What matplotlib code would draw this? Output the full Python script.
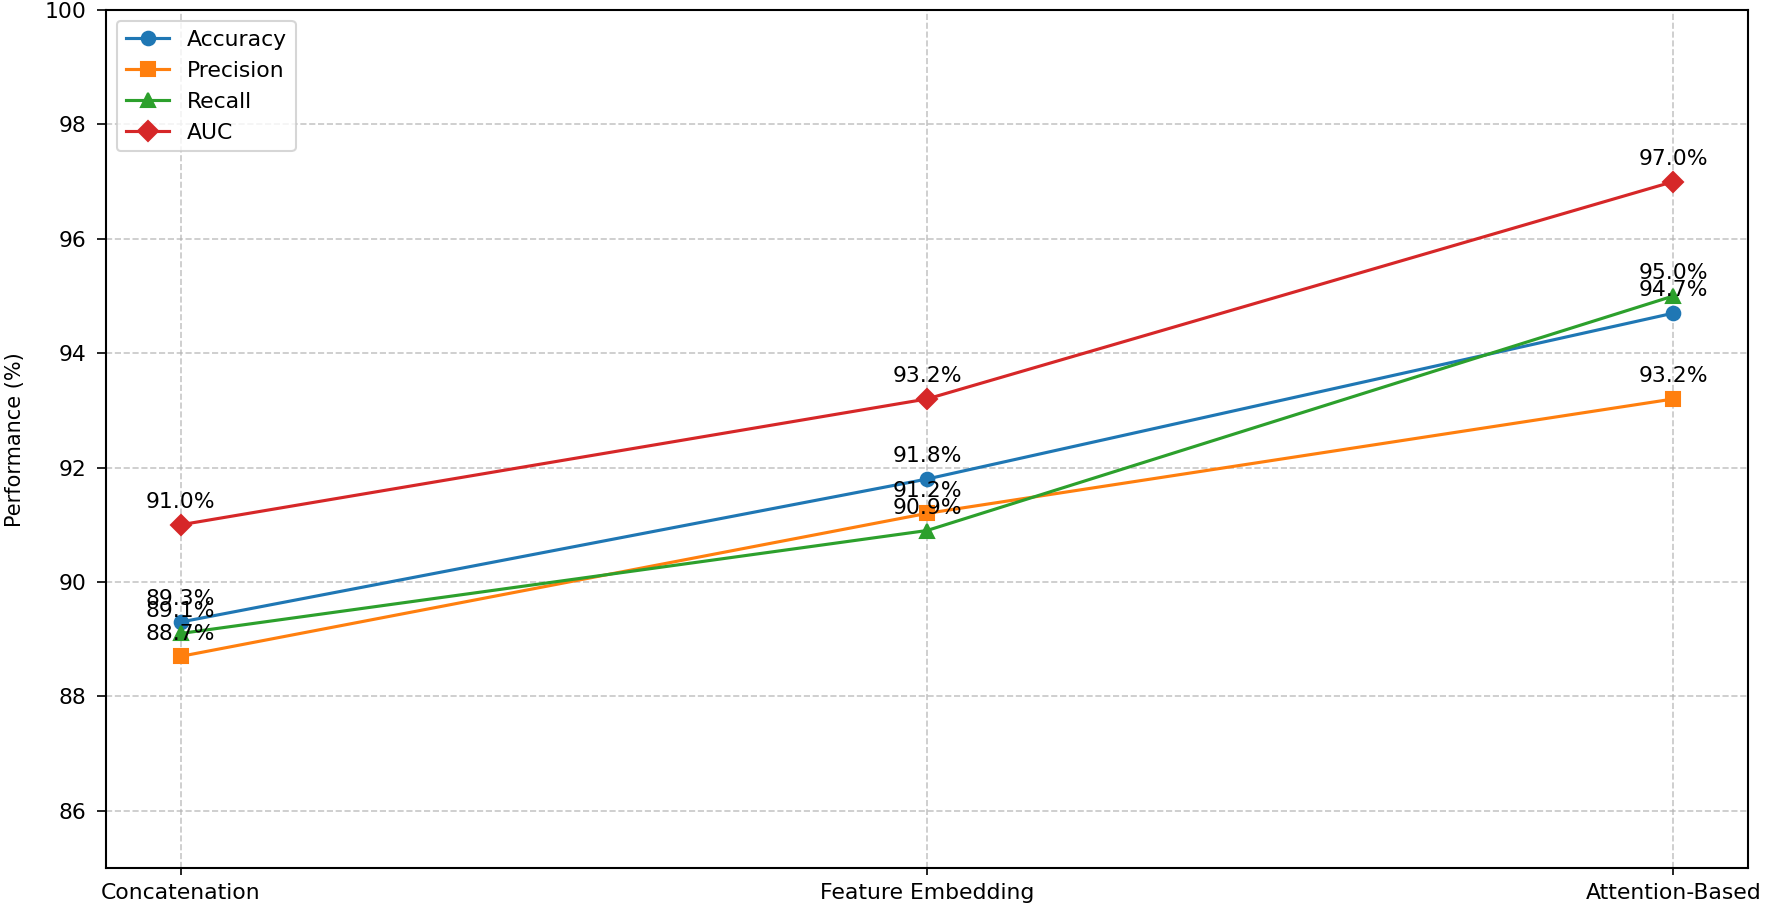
import matplotlib
matplotlib.use("Agg")
import matplotlib.pyplot as plt

methods = ["Concatenation", "Feature Embedding", "Attention-Based"]
accuracy = [89.3, 91.8, 94.7]
precision = [88.7, 91.2, 93.2]
recall = [89.1, 90.9, 95.0]
auc = [91.0, 93.2, 97.0]

series = [
    ("Accuracy", accuracy, "o", "#1f77b4"),
    ("Precision", precision, "s", "#ff7f0e"),
    ("Recall", recall, "^", "#2ca02c"),
    ("AUC", auc, "D", "#d62728"),
]

plt.rcParams["font.size"] = 10.5
plt.rcParams["axes.linewidth"] = 1.0
fig = plt.figure(figsize=(1772 / 150, 910 / 150), dpi=150)
ax = fig.add_axes([106 / 1772, 1 - 868 / 910, (1748 - 106) / 1772, (868 - 10) / 910])

x = list(range(len(methods)))
for name, vals, mk, col in series:
    ax.plot(x, vals, marker=mk, color=col, label=name, linewidth=1.5, markersize=6.5)
    for xi, v in zip(x, vals):
        ax.annotate(f"{v:.1f}%", (xi, v), xytext=(0, 8), textcoords="offset points",
                    ha="center", va="baseline")

ax.set_xticks(x)
ax.set_xticklabels(methods)
ax.set_ylim(85, 100)
ax.set_yticks([86, 88, 90, 92, 94, 96, 98, 100])
ax.tick_params(axis="y", length=4.5, pad=5)
ax.grid(True, linestyle="--", alpha=0.7)
ax.legend(loc="upper left")

fig.text(15 / 1772, 1 - 440 / 910, "Performance (%)", rotation=90,
         ha="center", va="center", fontsize=10)

fig.savefig("out.png", dpi=150)
